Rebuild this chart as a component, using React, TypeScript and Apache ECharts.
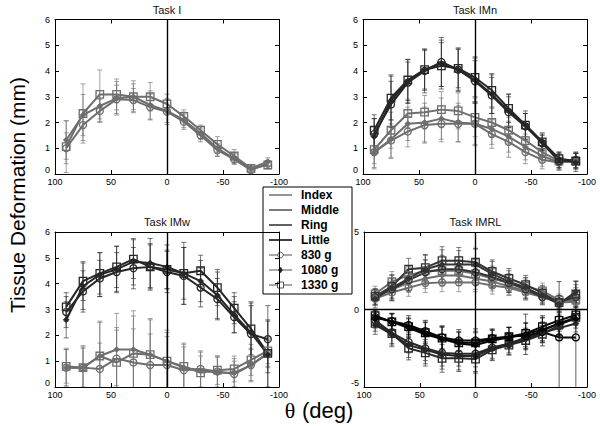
import React, { useEffect, useRef } from 'react';
import * as echarts from 'echarts';

// ---------- data ----------
const angles = [90, 75, 60, 45, 30, 15, 0, -15, -30, -45, -60, -75, -90];

// Task I (index finger)
const taskI_index_830 = [1.0, 1.9, 2.45, 2.9, 2.87, 2.6, 2.42, 2.03, 1.5, 0.93, 0.57, 0.15, 0.4];
const taskI_index_1080 = [1.32, 2.29, 2.64, 2.94, 3.0, 2.68, 2.45, 2.1, 1.58, 1.0, 0.6, 0.22, 0.48];
const taskI_index_1330 = [1.06, 2.35, 3.09, 3.09, 3.0, 3.0, 2.72, 2.24, 1.7, 1.15, 0.7, 0.22, 0.35];
const taskI_index_830_err = [0.6, 0.6, 0.45, 0.55, 0.45, 0.5, 0.5, 0.3, 0.25, 0.25, 0.2, 0.1, 0.1];
const taskI_index_1080_err = [0.75, 0.8, 0.6, 0.65, 0.5, 0.55, 0.45, 0.3, 0.25, 0.3, 0.2, 0.1, 0.15];
const taskI_index_1330_err = [1.0, 1.15, 0.95, 0.6, 0.62, 0.55, 0.38, 0.25, 0.2, 0.3, 0.25, 0.1, 0.15];

// Task IMn
const taskIMn_middle_830 = [1.55, 2.7, 3.55, 4.0, 4.35, 4.05, 3.6, 3.05, 2.4, 1.85, 1.2, 0.5, 0.55];
const taskIMn_middle_1080 = [1.45, 2.85, 3.6, 4.05, 4.3, 4.05, 3.65, 3.1, 2.45, 1.9, 1.25, 0.55, 0.45];
const taskIMn_middle_1330 = [1.7, 2.95, 3.65, 4.05, 4.2, 4.1, 3.75, 3.25, 2.55, 1.9, 1.25, 0.6, 0.5];
const taskIMn_middle_830_err = [0.6, 0.9, 0.8, 0.85, 0.95, 0.85, 0.8, 0.7, 0.6, 0.5, 0.3, 0.3, 0.3];
const taskIMn_middle_1080_err = [0.7, 1.0, 0.85, 0.8, 0.9, 0.8, 0.9, 0.75, 0.65, 0.55, 0.35, 0.3, 0.35];
const taskIMn_middle_1330_err = [0.6, 0.85, 0.8, 0.75, 0.9, 0.75, 0.75, 0.65, 0.55, 0.45, 0.3, 0.25, 0.3];
const taskIMn_index_830 = [0.85, 1.3, 1.65, 1.9, 1.95, 1.95, 1.95, 1.55, 1.25, 0.85, 0.55, 0.45, 0.5];
const taskIMn_index_1080 = [0.85, 1.35, 1.95, 2.0, 2.15, 2.0, 1.95, 1.75, 1.45, 1.05, 0.7, 0.45, 0.55];
const taskIMn_index_1330 = [0.95, 1.7, 2.35, 2.4, 2.5, 2.45, 2.2, 2.0, 1.7, 1.3, 0.85, 0.5, 0.5];
const taskIMn_index_830_err = [0.6, 0.65, 0.6, 0.7, 0.7, 0.7, 0.8, 0.55, 0.6, 0.45, 0.35, 0.3, 0.3];
const taskIMn_index_1080_err = [0.65, 0.75, 0.65, 0.75, 0.8, 0.75, 0.85, 0.6, 0.6, 0.5, 0.4, 0.3, 0.3];
const taskIMn_index_1330_err = [0.55, 0.7, 0.55, 0.65, 0.7, 0.7, 0.75, 0.55, 0.5, 0.45, 0.35, 0.25, 0.3];

// Task IMw
const taskIMw_middle_830 = [2.9, 3.7, 4.2, 4.45, 4.6, 4.65, 4.45, 4.3, 3.85, 3.4, 2.7, 2.05, 1.85];
const taskIMw_middle_1080 = [2.6, 3.9, 4.35, 4.55, 4.85, 4.8, 4.65, 4.4, 4.1, 3.55, 2.8, 2.1, 1.25];
const taskIMw_middle_1330 = [3.1, 4.1, 4.4, 4.65, 4.95, 4.65, 4.55, 4.4, 4.5, 3.85, 3.05, 2.25, 1.3];
const taskIMw_middle_830_err = [0.6, 0.8, 0.7, 0.75, 0.8, 0.9, 0.8, 1.1, 0.75, 0.8, 0.6, 1.1, 1.3];
const taskIMw_middle_1080_err = [0.7, 0.9, 0.85, 0.9, 0.9, 0.95, 0.85, 1.2, 0.8, 0.9, 0.7, 1.2, 1.3];
const taskIMw_middle_1330_err = [0.55, 0.75, 0.8, 0.8, 0.75, 0.85, 0.75, 1.0, 0.6, 0.7, 0.6, 1.0, 1.3];
const taskIMw_index_830 = [0.75, 0.75, 0.7, 1.1, 0.95, 0.85, 0.85, 0.65, 0.7, 0.6, 0.5, 0.85, 1.3];
const taskIMw_index_1080 = [0.75, 0.75, 1.2, 1.45, 1.45, 1.25, 1.0, 0.75, 0.65, 0.55, 0.55, 0.85, 1.3];
const taskIMw_index_1330 = [0.8, 0.75, 1.2, 0.95, 1.3, 1.25, 1.0, 0.8, 0.55, 0.65, 0.7, 1.05, 1.4];
const taskIMw_index_830_err = [0.7, 0.8, 1.0, 1.2, 1.3, 1.2, 1.1, 0.9, 0.7, 0.6, 0.5, 0.6, 0.5];
const taskIMw_index_1080_err = [0.75, 0.85, 1.35, 1.4, 1.5, 1.4, 1.2, 0.95, 0.7, 0.6, 0.55, 0.65, 0.55];
const taskIMw_index_1330_err = [0.65, 0.75, 1.3, 1.25, 1.45, 1.35, 1.1, 0.85, 0.65, 0.55, 0.5, 0.6, 0.5];

// Task IMRL
const taskIMRL_ring_830 = [0.8, 1.3, 1.9, 2.4, 2.6, 2.6, 2.4, 2.1, 1.7, 1.3, 0.8, 0.5, 0.8];
const taskIMRL_ring_1080 = [0.7, 1.4, 2.0, 2.6, 2.9, 2.9, 2.9, 2.3, 1.8, 1.4, 0.9, 0.35, 1.15];
const taskIMRL_ring_1330 = [0.85, 1.5, 2.6, 2.7, 3.15, 3.15, 3.05, 2.45, 2.0, 1.6, 1.05, 0.45, 1.0];
const taskIMRL_index_830 = [0.7, 1.1, 1.4, 1.7, 1.75, 1.75, 1.75, 1.55, 1.4, 1.1, 0.8, 0.45, 0.5];
const taskIMRL_index_1080 = [0.8, 1.3, 1.7, 2.0, 2.2, 2.2, 2.0, 1.8, 1.5, 1.2, 0.9, 0.5, 0.7];
const taskIMRL_index_1330 = [1.0, 1.8, 2.2, 2.5, 2.5, 2.5, 2.3, 2.0, 1.7, 1.5, 1.2, 0.6, 0.6];
const taskIMRL_middle_830 = [-0.7, -1.5, -2.1, -2.5, -2.8, -2.85, -2.85, -2.45, -2.2, -1.8, -1.4, -0.9, -0.5];
const taskIMRL_middle_1080 = [-1.0, -1.6, -2.3, -2.6, -2.9, -3.0, -3.0, -2.5, -2.2, -1.9, -1.5, -1.2, -0.9];
const taskIMRL_middle_1330 = [-0.9, -1.55, -2.5, -2.8, -3.15, -3.15, -3.2, -2.6, -2.3, -2.0, -1.6, -1.0, -0.5];
const taskIMRL_little_830 = [-0.5, -0.75, -1.0, -1.4, -1.8, -2.0, -2.0, -1.85, -1.75, -1.7, -1.45, -1.8, -1.8];
const taskIMRL_little_1080 = [-0.5, -0.8, -1.2, -1.6, -1.9, -2.2, -2.3, -2.0, -1.8, -1.6, -1.3, -0.9, -0.6];
const taskIMRL_little_1330 = [-0.4, -0.8, -1.1, -1.5, -1.85, -2.15, -2.15, -1.9, -1.75, -1.55, -1.1, -0.7, -0.35];
const taskIMRL_ring_830_err = [0.5, 0.7, 0.7, 0.8, 0.9, 0.8, 0.8, 0.7, 0.6, 0.6, 0.5, 0.4, 0.6];
const taskIMRL_ring_1080_err = [0.6, 0.8, 0.75, 0.9, 0.95, 0.9, 1.0, 0.8, 0.7, 0.65, 0.55, 0.5, 0.7];
const taskIMRL_ring_1330_err = [0.5, 0.75, 0.7, 0.85, 0.9, 0.85, 0.9, 0.75, 0.65, 0.6, 0.5, 0.45, 0.6];
const taskIMRL_index_830_err = [0.45, 0.55, 0.55, 0.6, 0.6, 0.6, 0.6, 0.55, 0.5, 0.5, 0.4, 0.35, 0.4];
const taskIMRL_index_1080_err = [0.5, 0.6, 0.6, 0.65, 0.7, 0.65, 0.7, 0.6, 0.55, 0.55, 0.45, 0.4, 0.45];
const taskIMRL_index_1330_err = [0.5, 0.65, 0.6, 0.7, 0.7, 0.7, 0.75, 0.6, 0.55, 0.55, 0.5, 0.4, 0.45];
const taskIMRL_middle_830_err = [0.5, 0.7, 0.7, 0.8, 0.85, 0.8, 0.85, 0.7, 0.6, 0.6, 0.6, 0.7, 0.5];
const taskIMRL_middle_1080_err = [0.6, 0.8, 0.8, 0.9, 0.95, 0.9, 1.0, 0.75, 0.7, 0.65, 0.6, 0.8, 0.55];
const taskIMRL_middle_1330_err = [0.5, 0.75, 0.75, 0.85, 0.9, 0.85, 0.9, 0.7, 0.65, 0.6, 0.55, 0.7, 0.5];
const taskIMRL_little_830_err = [0.4, 0.5, 0.6, 0.7, 0.75, 0.7, 0.75, 0.6, 0.6, 0.8, 0.9, 3.6, 3.6];
const taskIMRL_little_1080_err = [0.45, 0.55, 0.6, 0.75, 0.8, 0.75, 0.8, 0.65, 0.65, 1.3, 0.8, 0.8, 0.6];
const taskIMRL_little_1330_err = [0.4, 0.5, 0.55, 0.7, 0.7, 0.7, 0.75, 0.6, 0.6, 0.7, 0.7, 0.7, 0.5];

const panelTitles = ['Task I', 'Task IMn', 'Task IMw', 'Task IMRL'];
const legendFingers = ['Index', 'Middle', 'Ring', 'Little'];
const legendWeights = ['830 g', '1080 g', '1330 g'];
const yAxisTitle = 'Tissue Deformation (mm)';

// ---------- styling ----------
const FINGER_COLORS: Record<string, string> = {
  Index: '#6e6e6e',
  Middle: '#262626',
  Ring: '#333333',
  Little: '#050505',
};
const LEGEND_COLORS: Record<string, string> = {
  Index: '#7a7a7a',
  Middle: '#5a5a5a',
  Ring: '#3a3a3a',
  Little: '#111111',
};

type SeriesDef = { grid: number; finger: string; weight: string; values: number[]; errors: number[] };

const seriesDefs: SeriesDef[] = [
  { grid: 0, finger: 'Index', weight: '830 g', values: taskI_index_830, errors: taskI_index_830_err },
  { grid: 0, finger: 'Index', weight: '1080 g', values: taskI_index_1080, errors: taskI_index_1080_err },
  { grid: 0, finger: 'Index', weight: '1330 g', values: taskI_index_1330, errors: taskI_index_1330_err },

  { grid: 1, finger: 'Index', weight: '830 g', values: taskIMn_index_830, errors: taskIMn_index_830_err },
  { grid: 1, finger: 'Index', weight: '1080 g', values: taskIMn_index_1080, errors: taskIMn_index_1080_err },
  { grid: 1, finger: 'Index', weight: '1330 g', values: taskIMn_index_1330, errors: taskIMn_index_1330_err },
  { grid: 1, finger: 'Middle', weight: '830 g', values: taskIMn_middle_830, errors: taskIMn_middle_830_err },
  { grid: 1, finger: 'Middle', weight: '1080 g', values: taskIMn_middle_1080, errors: taskIMn_middle_1080_err },
  { grid: 1, finger: 'Middle', weight: '1330 g', values: taskIMn_middle_1330, errors: taskIMn_middle_1330_err },

  { grid: 2, finger: 'Index', weight: '830 g', values: taskIMw_index_830, errors: taskIMw_index_830_err },
  { grid: 2, finger: 'Index', weight: '1080 g', values: taskIMw_index_1080, errors: taskIMw_index_1080_err },
  { grid: 2, finger: 'Index', weight: '1330 g', values: taskIMw_index_1330, errors: taskIMw_index_1330_err },
  { grid: 2, finger: 'Middle', weight: '830 g', values: taskIMw_middle_830, errors: taskIMw_middle_830_err },
  { grid: 2, finger: 'Middle', weight: '1080 g', values: taskIMw_middle_1080, errors: taskIMw_middle_1080_err },
  { grid: 2, finger: 'Middle', weight: '1330 g', values: taskIMw_middle_1330, errors: taskIMw_middle_1330_err },

  { grid: 3, finger: 'Index', weight: '830 g', values: taskIMRL_index_830, errors: taskIMRL_index_830_err },
  { grid: 3, finger: 'Index', weight: '1080 g', values: taskIMRL_index_1080, errors: taskIMRL_index_1080_err },
  { grid: 3, finger: 'Index', weight: '1330 g', values: taskIMRL_index_1330, errors: taskIMRL_index_1330_err },
  { grid: 3, finger: 'Ring', weight: '830 g', values: taskIMRL_ring_830, errors: taskIMRL_ring_830_err },
  { grid: 3, finger: 'Ring', weight: '1080 g', values: taskIMRL_ring_1080, errors: taskIMRL_ring_1080_err },
  { grid: 3, finger: 'Ring', weight: '1330 g', values: taskIMRL_ring_1330, errors: taskIMRL_ring_1330_err },
  { grid: 3, finger: 'Middle', weight: '830 g', values: taskIMRL_middle_830, errors: taskIMRL_middle_830_err },
  { grid: 3, finger: 'Middle', weight: '1080 g', values: taskIMRL_middle_1080, errors: taskIMRL_middle_1080_err },
  { grid: 3, finger: 'Middle', weight: '1330 g', values: taskIMRL_middle_1330, errors: taskIMRL_middle_1330_err },
  { grid: 3, finger: 'Little', weight: '830 g', values: taskIMRL_little_830, errors: taskIMRL_little_830_err },
  { grid: 3, finger: 'Little', weight: '1080 g', values: taskIMRL_little_1080, errors: taskIMRL_little_1080_err },
  { grid: 3, finger: 'Little', weight: '1330 g', values: taskIMRL_little_1330, errors: taskIMRL_little_1330_err },
];

const panelLayout = [
  { left: 55, top: 19.5, width: 224, height: 154.5, min: 0, max: 6, interval: 1 },
  { left: 363, top: 19.5, width: 224, height: 154.5, min: 0, max: 6, interval: 1 },
  { left: 55, top: 232, width: 224, height: 155, min: 0, max: 6, interval: 1 },
  { left: 364, top: 232, width: 223, height: 155, min: -5, max: 5, interval: 5 },
];

const FONT = '"Liberation Sans", Arial, Helvetica, sans-serif';

function markerStyle(weight: string, color: string) {
  if (weight === '830 g')
    return { symbol: 'circle', symbolSize: 7, itemStyle: { color: 'rgba(255,255,255,0)', borderColor: color, borderWidth: 1.3 } };
  if (weight === '1080 g')
    return { symbol: 'diamond', symbolSize: 6, itemStyle: { color, borderColor: color, borderWidth: 0.6 } };
  return { symbol: 'rect', symbolSize: 7.5, itemStyle: { color: 'rgba(255,255,255,0)', borderColor: color, borderWidth: 1.3 } };
}

function buildOption() {
  const grid = panelLayout.map((p) => ({ left: p.left, top: p.top, width: p.width, height: p.height, containLabel: false }));
  const axisLine = { show: true, onZero: false, lineStyle: { color: '#000', width: 1 } };
  const axisTick = { show: true, inside: true, length: 4, lineStyle: { color: '#000', width: 1 } };
  const xAxis: any[] = [];
  const yAxis: any[] = [];
  panelLayout.forEach((p, g) => {
    const xBase = { type: 'value', gridIndex: g, min: -100, max: 100, interval: 50, inverse: true, axisLine, axisTick, splitLine: { show: false } };
    xAxis.push({ ...xBase, position: 'bottom', axisLabel: { color: '#000', fontSize: 9, margin: 3, fontFamily: FONT } });
    xAxis.push({ ...xBase, position: 'top', axisLabel: { show: false } });
    const yBase = { type: 'value', gridIndex: g, min: p.min, max: p.max, interval: p.interval, axisLine, axisTick, splitLine: { show: false } };
    yAxis.push({
      ...yBase,
      position: 'left',
      axisLabel: {
        color: '#000',
        fontSize: 9,
        margin: 5,
        fontFamily: FONT,
        formatter: (v: number) => (v === p.min ? `{lo|${v}}` : `${v}`),
        rich: { lo: { fontSize: 9, fontFamily: FONT, color: '#000', padding: [0, 0, 8, 0] } },
      },
    });
    yAxis.push({ ...yBase, position: 'right', axisLabel: { show: false } });
  });

  const series: any[] = [];
  seriesDefs.forEach((s) => {
    const color = FINGER_COLORS[s.finger];
    series.push({
      type: 'custom',
      xAxisIndex: s.grid * 2,
      yAxisIndex: s.grid * 2,
      clip: true,
      silent: true,
      z: 1,
      data: angles.map((a, i) => [a, s.values[i], s.errors[i]]),
      encode: { x: 0, y: 1 },
      renderItem: (_params: any, api: any) => {
        const x = api.value(0);
        const y = api.value(1);
        const e = api.value(2);
        const lo = api.coord([x, y - e]);
        const hi = api.coord([x, y + e]);
        const w = 2.5;
        const style = { stroke: color, lineWidth: 0.9, opacity: 0.7 };
        return {
          type: 'group',
          children: [
            { type: 'line', shape: { x1: lo[0], y1: lo[1], x2: hi[0], y2: hi[1] }, style },
            { type: 'line', shape: { x1: lo[0] - w, y1: lo[1], x2: lo[0] + w, y2: lo[1] }, style },
            { type: 'line', shape: { x1: hi[0] - w, y1: hi[1], x2: hi[0] + w, y2: hi[1] }, style },
          ],
        };
      },
    });
    series.push({
      type: 'line',
      name: `${s.finger} ${s.weight}`,
      xAxisIndex: s.grid * 2,
      yAxisIndex: s.grid * 2,
      data: angles.map((a, i) => [a, s.values[i]]),
      lineStyle: { color, width: 2 },
      ...markerStyle(s.weight, color),
      z: 3,
      silent: true,
    });
  });

  // zero reference lines
  panelLayout.forEach((p, g) => {
    const lines: any[] = [{ xAxis: 0 }];
    if (p.min < 0) lines.push({ yAxis: 0 });
    series.push({
      type: 'line',
      xAxisIndex: g * 2,
      yAxisIndex: g * 2,
      data: [],
      silent: true,
      z: 2,
      markLine: {
        silent: true,
        symbol: ['none', 'none'],
        label: { show: false },
        lineStyle: { color: '#000', width: 1.4, type: 'solid' },
        data: lines,
      },
    });
  });

  const graphic: any[] = [];
  // titles
  panelTitles.forEach((t, g) => {
    const p = panelLayout[g];
    graphic.push({
      type: 'text',
      x: p.left + p.width / 2,
      y: p.top - 10,
      style: { text: t, fill: '#111', font: `11px ${FONT}`, align: 'center', verticalAlign: 'middle' },
    });
  });
  // axis titles
  graphic.push({
    type: 'text',
    x: 17,
    y: 195,
    rotation: Math.PI / 2,
    style: { text: yAxisTitle, fill: '#000', font: `21px ${FONT}`, align: 'center', verticalAlign: 'middle' },
  });
  graphic.push({
    type: 'text',
    x: 290,
    y: 410,
    style: { text: 'θ', fill: '#000', font: `22px "Liberation Serif", "DejaVu Serif", serif`, align: 'center', verticalAlign: 'middle' },
  });
  graphic.push({
    type: 'text',
    x: 302,
    y: 410,
    style: { text: '(deg)', fill: '#000', font: `22px ${FONT}`, align: 'left', verticalAlign: 'middle' },
  });

  // legend
  const lx = 263, ly = 187;
  const legendChildren: any[] = [
    { type: 'rect', shape: { x: lx, y: ly, width: 89, height: 107 }, style: { fill: '#fff', stroke: '#000', lineWidth: 1 } },
  ];
  const rowY = (i: number) => ly + 8 + i * 15;
  legendFingers.forEach((f, i) => {
    const y = rowY(i);
    legendChildren.push({ type: 'line', shape: { x1: lx + 6, y1: y, x2: lx + 29, y2: y }, style: { stroke: LEGEND_COLORS[f], lineWidth: 1.6 } });
    legendChildren.push({ type: 'text', x: lx + 38, y, style: { text: f, fill: '#000', font: `bold 12px ${FONT}`, verticalAlign: 'middle' } });
  });
  legendWeights.forEach((w, j) => {
    const y = rowY(4 + j);
    const c = '#555';
    legendChildren.push({ type: 'line', shape: { x1: lx + 6, y1: y, x2: lx + 29, y2: y }, style: { stroke: c, lineWidth: 1 } });
    const cx = lx + 17.5;
    if (w === '830 g') legendChildren.push({ type: 'circle', shape: { cx, cy: y, r: 2.8 }, style: { fill: '#fff', stroke: c, lineWidth: 1 } });
    else if (w === '1080 g')
      legendChildren.push({ type: 'polygon', shape: { points: [[cx, y - 3], [cx + 2, y], [cx, y + 3], [cx - 2, y]] }, style: { fill: '#222', stroke: '#222', lineWidth: 0.5 } });
    else legendChildren.push({ type: 'rect', shape: { x: cx - 3, y: y - 3, width: 6, height: 6 }, style: { fill: '#fff', stroke: c, lineWidth: 1 } });
    legendChildren.push({ type: 'text', x: lx + 38, y, style: { text: w, fill: '#000', font: `bold 12px ${FONT}`, verticalAlign: 'middle' } });
  });
  graphic.push({ type: 'group', z: 100, children: legendChildren });

  return {
    animation: false,
    backgroundColor: '#fff',
    textStyle: { fontFamily: FONT },
    grid,
    xAxis,
    yAxis,
    series,
    graphic,
  };
}

export default function App() {
  const ref = useRef<HTMLDivElement>(null);
  useEffect(() => {
    if (!ref.current) return;
    const chart = echarts.init(ref.current, undefined, { renderer: 'svg' });
    chart.setOption(buildOption() as any);
    return () => chart.dispose();
  }, []);
  return <div ref={ref} style={{ position: 'fixed', left: 0, top: 0, width: 600, height: 426, background: '#fff' }} />;
}
